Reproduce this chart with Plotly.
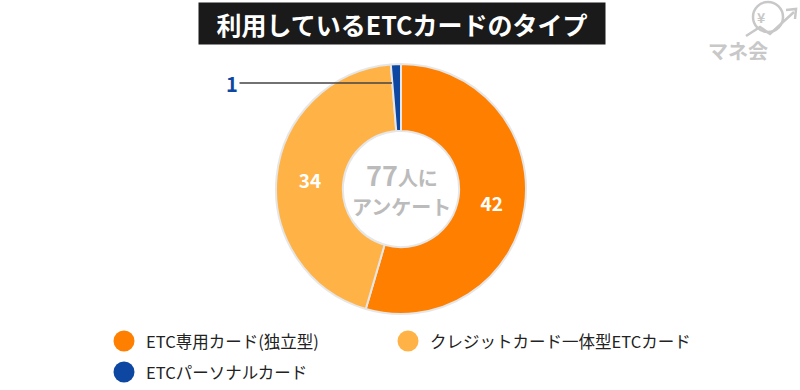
import plotly.graph_objects as go

categories = ["ETC専用カード(独立型)", "クレジットカード一体型ETCカード", "ETCパーソナルカード"]
values = [42, 34, 1]
colors = ["#FF7F00", "#FFB347", "#0D47A1"]
title = "利用しているETCカードのタイプ"
total_label = "77"

FONT = "Noto Sans CJK JP"
W, H = 800, 390

def px(x):
    return x / W

def py(y):
    return 1 - y / H

fig = go.Figure()
texts = [str(v) if v >= 5 else "" for v in values]
fig.add_trace(go.Pie(
    labels=categories, values=values, sort=False, direction="clockwise", rotation=0,
    hole=0.465,
    marker=dict(colors=colors, line=dict(color="#e6e6e6", width=2)),
    text=texts, textinfo="text", textposition="inside",
    insidetextorientation="horizontal",
    textfont=dict(family=FONT, size=19, color="white", weight="bold"),
    domain=dict(x=[px(276), px(526)], y=[py(314), py(64)]),
    showlegend=False, hoverinfo="label+value",
))

annotations = [
    dict(text=f"<b>{title}</b>", x=px(402), y=py(23), xref="paper", yref="paper",
         showarrow=False, bgcolor="#1a1a1a", font=dict(family=FONT, size=25, color="white"),
         width=398, height=33, borderpad=4, xanchor="center", yanchor="middle"),
    dict(text=f"<b><span style='font-size:27px'>{total_label}</span>人に</b>",
         x=px(402), y=py(175), xref="paper", yref="paper", showarrow=False,
         font=dict(family=FONT, size=20, color="#bbbbbb"), yanchor="middle"),
    dict(text="<b>アンケート</b>",
         x=px(402), y=py(206), xref="paper", yref="paper", showarrow=False,
         font=dict(family=FONT, size=20, color="#bbbbbb"), yanchor="middle"),
    dict(text=f"<b>{values[2]}</b>", x=px(392), y=py(83), xref="paper", yref="paper",
         showarrow=True, arrowhead=0, arrowwidth=1.3, arrowcolor="#444444",
         ax=-160, ay=0, font=dict(family=FONT, size=20, color=colors[2])),
    dict(text="<b>マネ会</b>", x=px(770), y=py(51), xref="paper", yref="paper",
         showarrow=False, font=dict(family=FONT, size=20, color="#c8c8c8"), yanchor="middle"),
    dict(text="<b>¥</b>", x=px(768), y=py(17), xref="paper", yref="paper",
         showarrow=False, font=dict(family=FONT, size=14, color="#c8c8c8"), yanchor="middle"),
]

shapes = [
    dict(type="circle", xref="paper", yref="paper",
         x0=px(753), x1=px(783), y0=py(32), y1=py(2),
         line=dict(color="#c8c8c8", width=2.5)),
    dict(type="path", xref="paper", yref="paper",
         path=f"M {px(746)} {py(36)} L {px(760)} {py(27)} L {px(770)} {py(34)} L {px(794)} {py(12)}",
         line=dict(color="#c8c8c8", width=2.5)),
    dict(type="path", xref="paper", yref="paper",
         path=f"M {px(786)} {py(10)} L {px(796)} {py(9)} L {px(795)} {py(19)}",
         line=dict(color="#c8c8c8", width=2.5)),
]

# legend (manual, circles)
leg_pos = [(124, 341), (408, 341), (124, 372)]
for (lx, ly), c, col in zip(leg_pos, categories, colors):
    shapes.append(dict(type="circle", xref="paper", yref="paper",
                       x0=px(lx - 10.5), x1=px(lx + 10.5), y0=py(ly + 10.5), y1=py(ly - 10.5),
                       fillcolor=col, line=dict(width=0)))
    annotations.append(dict(text=c, x=px(lx + 20), y=py(ly), xref="paper", yref="paper",
                            showarrow=False, xanchor="left", yanchor="middle",
                            font=dict(family=FONT, size=16.5, color="#222222")))

fig.update_layout(
    width=W, height=H, margin=dict(l=0, r=0, t=0, b=0, autoexpand=False),
    paper_bgcolor="white", plot_bgcolor="white",
    annotations=annotations, shapes=shapes,
    showlegend=False,
    font=dict(family=FONT),
)

fig.write_html("out.html", config={"displayModeBar": False},
               post_script="document.body.style.margin='0';document.body.style.padding='0';")
